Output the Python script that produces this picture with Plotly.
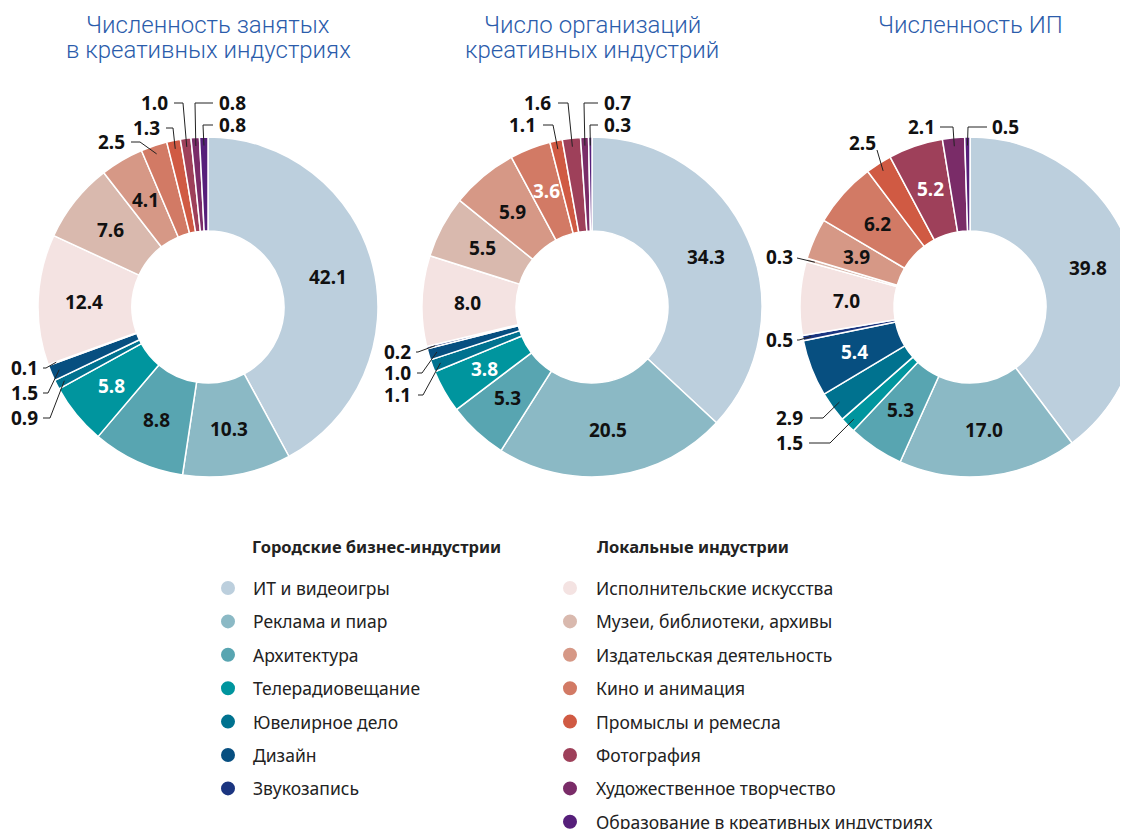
import math
import plotly.graph_objects as go

W, H = 1140, 829   # figure size; page body adds an 8px margin
OFF = 8            # body margin of the html page

categories = [
    "ИТ и видеоигры", "Реклама и пиар", "Архитектура", "Телерадиовещание",
    "Ювелирное дело", "Дизайн", "Звукозапись",
    "Исполнительские искусства", "Музеи, библиотеки, архивы",
    "Издательская деятельность", "Кино и анимация", "Промыслы и ремесла",
    "Фотография", "Художественное творчество",
    "Образование в креативных индустриях",
]
colors = [
    "#bccfdd", "#8bb9c5", "#58a5b1", "#00959e", "#00728f", "#074f80", "#1b3580",
    "#f4e3e2", "#d9b9ae", "#d69886", "#d27a65", "#d05a43", "#9e405a", "#7a2c68",
    "#561f7a",
]

employed = [42.1, 10.3, 8.8, 5.8, 0.9, 1.5, 0.1, 12.4, 7.6, 4.1, 2.5, 1.3, 1.0, 0.8, 0.8]
organizations = [34.3, 20.5, 5.3, 3.8, 1.1, 1.0, 0.2, 8.0, 5.5, 5.9, 3.6, 1.1, 1.6, 0.7, 0.3]
entrepreneurs = [39.8, 17.0, 5.3, 1.5, 2.9, 5.4, 0.5, 7.0, 0.3, 3.9, 6.2, 2.5, 5.2, 2.1, 0.5]

titles = [
    ["Численность занятых", "в креативных индустриях"],
    ["Число организаций", "креативных индустрий"],
    ["Численность ИП"],
]
group_titles = ["Городские бизнес-индустрии", "Локальные индустрии"]

# ---- layout config (screen pixels) ----
R = 170
HOLE = 0.447
centers = [(208, 307), (592, 307), (970, 307)]
title_x = [208, 592, 970]
title_y = [25, 50]
white_text = [{3}, {3, 10}, {5, 12}]
# outside labels: idx -> (tx, ty, anchor, sx, sy, ex) relative to centre
outside = [
    {10: (-81, -165, "right", -77, -165, -68),
     11: (-46, -179, "right", -42, -179, -35),
     12: (-38, -204, "right", -34, -204, -25),
     13: (9, -204, "left", 5, -204, -13),
     14: (9, -182, "left", 5, -182, -5),
     6: (-168, 61, "right", -165, 61, -162),
     5: (-168, 86, "right", -165, 86, -160),
     4: (-168, 111, "right", -165, 111, -158)},
    {12: (-39, -204, "right", -34, -204, -24),
     11: (-54, -182, "right", -49, -182, -39),
     13: (10, -204, "left", 6, -204, -8),
     14: (10, -182, "left", 6, -182, -2),
     6: (-179, 45, "right", -176, 45, -174),
     5: (-179, 66, "right", -175, 66, -170),
     4: (-179, 88, "right", -174, 88, -169)},
    {13: (-33, -180, "right", -30, -180, -17),
     14: (20, -180, "left", 17, -180, -2),
     11: (-108, -164, "center", -93, -157, -93),
     8: (-175, -50, "right", -173, -49, -173),
     6: (-175, 33, "right", -173, 33, -171),
     4: (-165, 111, "right", -160, 111, -147),
     3: (-165, 136, "right", -161, 136, -140)},
]

LABEL_FONT = dict(family="Noto Sans, Open Sans, sans-serif", size=19, color="#111111", weight="bold")


def px(x, y):
    return (x - OFF) / W, 1 - (y - OFF) / H


fig = go.Figure()
annotations = []
shapes = []

for k, vals in enumerate([employed, organizations, entrepreneurs]):
    cx, cy = centers[k]
    x0, y1 = px(cx - R, cy - R)
    x1, y0 = px(cx + R, cy + R)
    fig.add_trace(go.Pie(
        values=vals, labels=categories, sort=False, direction="clockwise", rotation=0,
        hole=HOLE, marker=dict(colors=colors, line=dict(color="white", width=1.5)),
        textinfo="none", showlegend=False, hoverinfo="label+value",
        domain=dict(x=[max(0, x0), min(1, x1)], y=[y0, y1]),
    ))
    total = sum(vals)
    cum = 0.0
    for i, v in enumerate(vals):
        mid = (cum + v / 2) / total * 2 * math.pi
        cum += v
        txt = f"{v:.1f}"
        col = "white" if i in white_text[k] else "#111111"
        if i in outside[k]:
            tx, ty, anc, sx, sy, ex = outside[k][i]
            pr = 0.95 * R
            pxp, pyp = cx + pr * math.sin(mid), cy - pr * math.cos(mid)
            ax, ay = px(cx + tx, cy + ty)
            annotations.append(dict(x=ax, y=ay, xref="paper", yref="paper", text=txt,
                                    showarrow=False, xanchor=anc, yanchor="middle",
                                    font=LABEL_FONT))
            p1 = px(cx + sx, cy + sy)
            p2 = px(cx + ex, cy + sy)
            p3 = px(pxp, pyp)
            shapes.append(dict(type="path", xref="paper", yref="paper",
                               path=f"M {p1[0]},{p1[1]} L {p2[0]},{p2[1]} L {p3[0]},{p3[1]}",
                               line=dict(color="#222222", width=1)))
        else:
            tr = 0.73 * R
            ax, ay = px(cx + tr * math.sin(mid), cy - tr * math.cos(mid))
            f = dict(LABEL_FONT)
            f["color"] = col
            annotations.append(dict(x=ax, y=ay, xref="paper", yref="paper", text=txt,
                                    showarrow=False, xanchor="center", yanchor="middle",
                                    font=f))
    for li, line in enumerate(titles[k]):
        tx, ty = px(title_x[k], title_y[li])
        annotations.append(dict(x=tx, y=ty, xref="paper", yref="paper", text=line,
                                showarrow=False, xanchor="center", yanchor="middle",
                                font=dict(family="Roboto, sans-serif", size=24,
                                          color="#2b5cab", weight=300)))

# ---- custom legend ----
leg_cols = [(228, 251, list(range(0, 7))), (570, 594, list(range(7, 15)))]
head_x = [250, 595]
for g, (mx, txx, idxs) in enumerate(leg_cols):
    hx, hy = px(head_x[g], 546)
    annotations.append(dict(x=hx, y=hy, xref="paper", yref="paper", text=group_titles[g],
                            showarrow=False, xanchor="left", yanchor="middle",
                            font=dict(family="Noto Sans, sans-serif", size=16.5, color="#222222",
                                      weight="bold")))
    for j, i in enumerate(idxs):
        yy = 588 + j * 33.4
        ax, ay = px(mx, yy)
        shapes.append(dict(type="circle", xref="paper", yref="paper", xsizemode="pixel",
                           ysizemode="pixel", xanchor=ax, yanchor=ay, x0=-7, x1=7, y0=-7, y1=7,
                           fillcolor=colors[i], line=dict(width=0)))
        lx, ly = px(txx, yy)
        annotations.append(dict(x=lx, y=ly, xref="paper", yref="paper", text=categories[i],
                                showarrow=False, xanchor="left", yanchor="middle",
                                font=dict(family="Noto Sans, sans-serif", size=17.5,
                                          color="#222222")))

fig.update_layout(
    width=W, height=H, margin=dict(l=0, r=0, t=0, b=0),
    paper_bgcolor="white", plot_bgcolor="white",
    annotations=annotations, shapes=shapes,
)
fig.write_html("out.html")
